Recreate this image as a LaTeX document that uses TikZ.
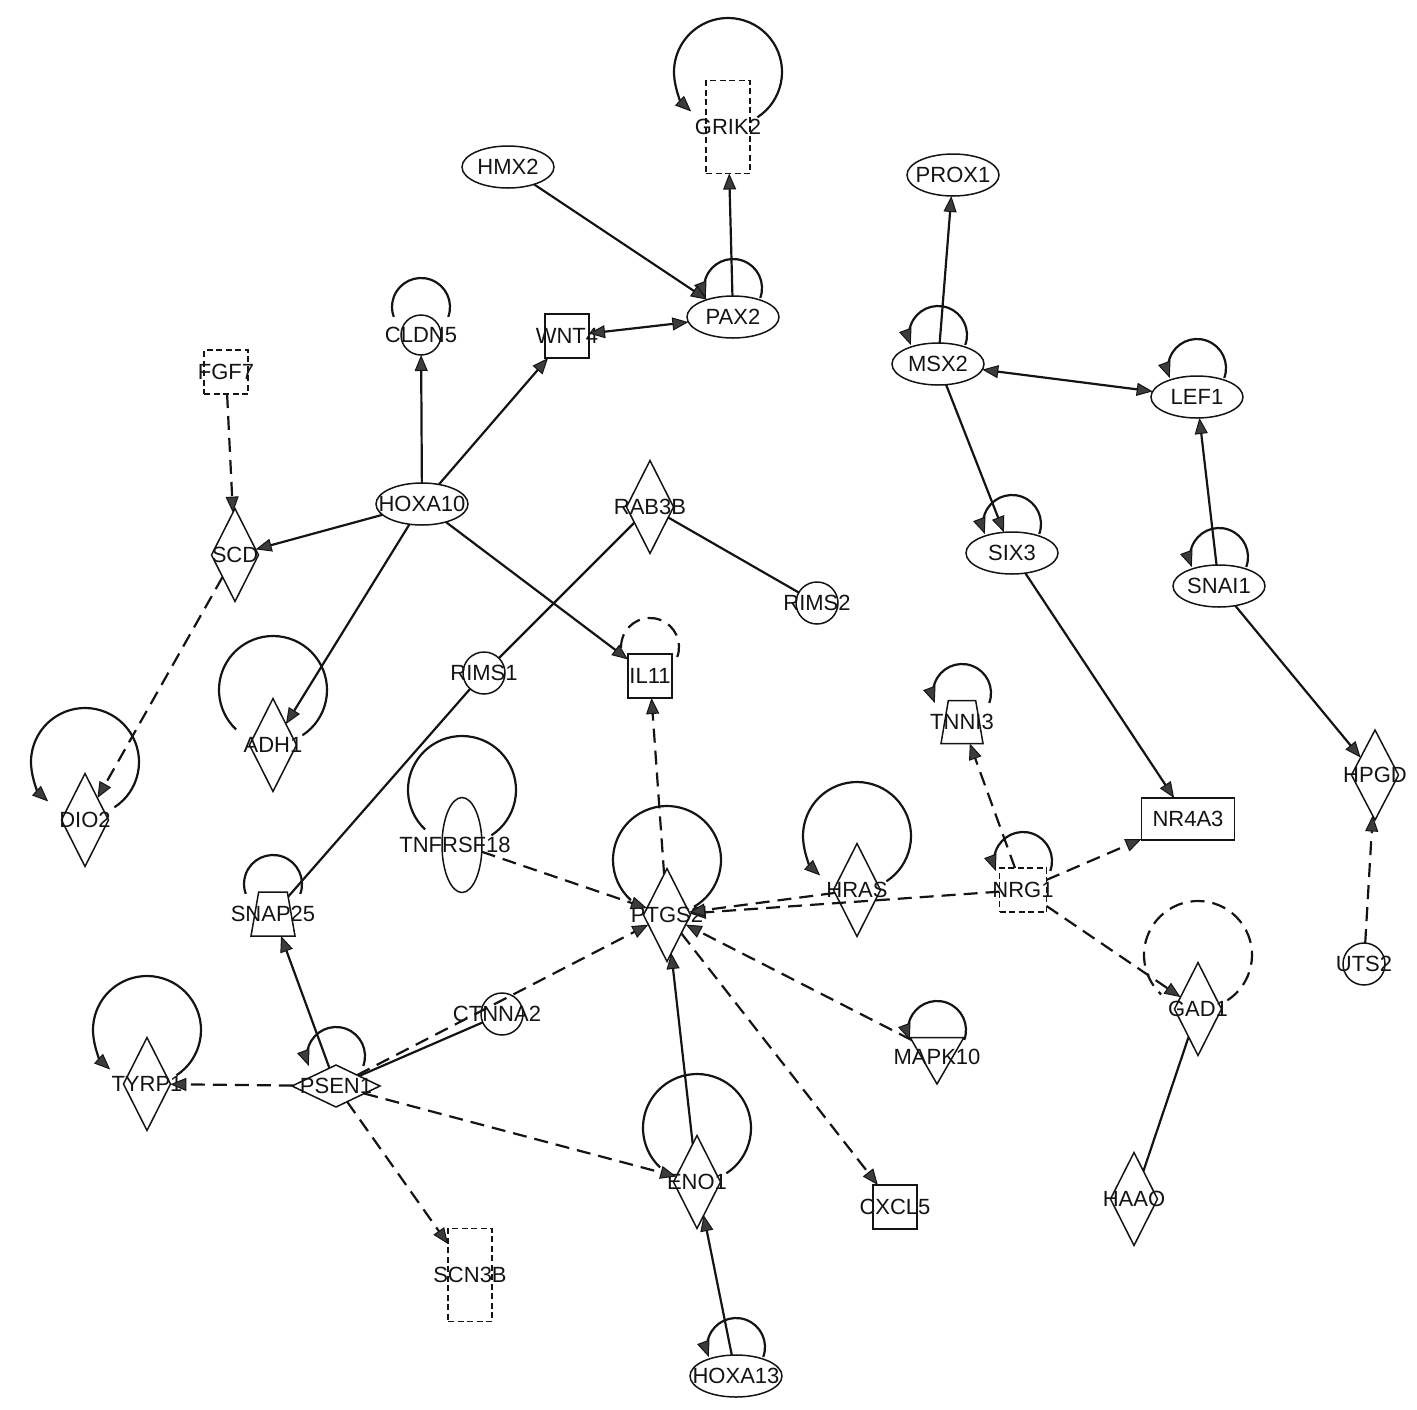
\documentclass[tikz,border=0pt]{standalone}
\usepackage{fontspec}
\newfontfamily\genefont{Liberation Sans}
\usetikzlibrary{shapes.geometric,arrows.meta}
\definecolor{ipaink}{RGB}{20,20,20}
\definecolor{ipatip}{RGB}{60,60,60}

% self-regulation loop above a node: node, offset, radius, start, end
\newcommand{\selfloop}[6][]{\draw[loopline,#1] ([yshift=#3pt]#2.center) ++(#5:#4pt) arc[start angle=#5,end angle=#6,radius=#4pt];}

\begin{document}
\begin{tikzpicture}[x=1pt,y=-1pt,
    >={Triangle[length=16pt,width=13pt,fill=ipatip,line width=1pt]},
    gene/.style={draw=ipaink,line width=1.5pt,inner sep=0pt,outer sep=0pt},
    lbl/.style={font=\genefont\fontsize{22}{24}\selectfont,text=ipaink,inner sep=0pt},
    fine/.style={dash pattern=on 6pt off 3.5pt},
    tr/.style={gene,ellipse,minimum width=92pt,minimum height=42pt},
    recep/.style={gene,ellipse,minimum width=40pt,minimum height=95pt},
    enz/.style={gene,diamond,minimum width=47pt,minimum height=93pt},
    pep/.style={gene,diamond,minimum width=88pt,minimum height=42pt},
    oth/.style={gene,circle,minimum size=42pt},
    cyt/.style={gene,rectangle,minimum width=44pt,minimum height=44pt},
    gf/.style={cyt,fine},
    chan/.style={gene,fine,rectangle,minimum width=44pt,minimum height=93pt},
    nrec/.style={gene,rectangle,minimum width=93pt,minimum height=42pt},
    trans/.style={gene,trapezium,trapezium angle=75,trapezium stretches=true,minimum width=44pt,minimum height=44pt},
    kin/.style={gene,regular polygon,regular polygon sides=3,shape border rotate=180,minimum size=62pt},
    act/.style={draw=ipaink,line width=2.2pt},
    dashline/.style={dash pattern=on 14pt off 8pt},
    loopline/.style={draw=ipaink,line width=2.2pt}]
  \useasboundingbox (0,0) rectangle (1417,1409);

  % genes
  \node[chan,label={[lbl]center:GRIK2}] (grik2) at (728,127) {};
  \node[tr,label={[lbl]center:HMX2}] (hmx2) at (508,167) {};
  \node[tr,label={[lbl]center:PAX2}] (pax2) at (733,317) {};
  \node[cyt,label={[lbl]center:WNT4}] (wnt4) at (567,336) {};
  \node[oth,minimum size=40pt,label={[lbl]center:CLDN5}] (cldn5) at (421,335) {};
  \node[gf,label={[lbl]center:FGF7}] (fgf7) at (226,372) {};
  \node[tr,label={[lbl]center:PROX1}] (prox1) at (953,175) {};
  \node[tr,label={[lbl]center:MSX2}] (msx2) at (938,364) {};
  \node[tr,label={[lbl]center:LEF1}] (lef1) at (1197,397) {};
  \node[tr,label={[lbl]center:HOXA10}] (hoxa10) at (422,504) {};
  \node[enz,label={[lbl]center:SCD}] (scd) at (235,555) {};
  \node[enz,label={[lbl]center:RAB3B}] (rab3b) at (650,507) {};
  \node[oth,label={[lbl]center:RIMS2}] (rims2) at (817,603) {};
  \node[oth,label={[lbl]center:RIMS1}] (rims1) at (484,673) {};
  \node[cyt,label={[lbl]center:IL11}] (il11) at (650,676) {};
  \node[enz,label={[lbl]center:ADH1}] (adh1) at (273,745) {};
  \node[enz,label={[lbl]center:DIO2}] (dio2) at (85,820) {};
  \node[recep,label={[lbl,xshift=-7pt]center:TNFRSF18}] (tnfrsf18) at (462,845) {};
  \node[trans,label={[lbl]center:SNAP25}] (snap25) at (273,914) {\phantom{\rule{2pt}{2pt}}};
  \node[enz,label={[lbl]center:PTGS2}] (ptgs2) at (667,915) {};
  \node[enz,label={[lbl]center:HRAS}] (hras) at (857,890) {};
  \node[trans,minimum width=42pt,minimum height=43pt,label={[lbl]center:TNNI3}] (tnni3) at (962,722) {\phantom{\rule{2pt}{2pt}}};
  \node[nrec,label={[lbl]center:NR4A3}] (nr4a3) at (1188,819) {};
  \node[gf,minimum width=47pt,label={[lbl]center:NRG1}] (nrg1) at (1023,890) {};
  \node[enz,minimum height=90pt,label={[lbl]center:HPGD}] (hpgd) at (1375,775) {};
  \node[oth,label={[lbl]center:UTS2}] (uts2) at (1364,964) {};
  \node[tr,label={[lbl]center:SNAI1}] (snai1) at (1219,586) {};
  \node[tr,label={[lbl]center:SIX3}] (six3) at (1012,553) {};
  \node[enz,label={[lbl]center:GAD1}] (gad1) at (1198,1009) {};
  \node[enz,label={[lbl]center:HAAO}] (haao) at (1134,1199) {};
  \node[kin,label={[lbl,yshift=-4pt]center:MAPK10}] (mapk10) at (937,1053) {};
  \node[oth,label={[lbl,xshift=-5pt]center:CTNNA2}] (ctnna2) at (502,1014) {};
  \node[pep,label={[lbl]center:PSEN1}] (psen1) at (336,1086) {};
  \node[enz,label={[lbl]center:TYRP1}] (tyrp1) at (147,1084) {};
  \node[chan,label={[lbl]center:SCN3B}] (scn3b) at (470,1275) {};
  \node[enz,label={[lbl]center:ENO1}] (eno1) at (697,1182) {};
  \node[cyt,label={[lbl]center:CXCL5}] (cxcl5) at (895,1207) {};
  \node[tr,label={[lbl]center:HOXA13}] (hoxa13) at (736,1376) {};

  % self loops
  \selfloop[->]{grik2}{55}{54}{-57}{227}
  \selfloop[->]{pax2}{29}{29}{-20}{200}
  \selfloop{cldn5}{28}{29}{-20}{200}
  \selfloop[->]{msx2}{29}{29}{-20}{200}
  \selfloop[->]{lef1}{29}{29}{-20}{200}
  \selfloop[->]{six3}{29}{29}{-20}{200}
  \selfloop[->]{snai1}{29}{29}{-20}{200}
  \selfloop[->]{hoxa13}{29}{29}{-20}{200}
  \selfloop[->]{tnni3}{29}{29}{-20}{200}
  \selfloop[->]{nrg1}{29}{29}{-20}{200}
  \selfloop[->]{mapk10}{23}{29}{-20}{200}
  \selfloop[->]{psen1}{30}{29}{-20}{200}
  \selfloop{snap25}{30}{29}{-20}{200}
  \selfloop[dashline]{il11}{29}{29}{-20}{200}
  \selfloop{adh1}{55}{54}{-57}{227}
  \selfloop[->]{dio2}{58}{54}{-57}{227}
  \selfloop{tnfrsf18}{55}{54}{-57}{227}
  \selfloop{ptgs2}{55}{54}{-60}{228}
  \selfloop[->]{hras}{54}{54}{-57}{227}
  \selfloop[dashline]{gad1}{54}{54}{-57}{227}
  \selfloop[->]{tyrp1}{54}{54}{-57}{227}
  \selfloop{eno1}{54}{54}{-57}{227}

  % interactions
  \draw[act,->] (hmx2) -- (pax2);
  \draw[act,->] (pax2) -- (grik2);
  \draw[act,<->] (wnt4) -- (pax2);
  \draw[act,->] (hoxa10) -- (wnt4);
  \draw[act,->] (hoxa10) -- (cldn5);
  \draw[act,->] (hoxa10) -- (scd);
  \draw[act,->] (hoxa10) -- (adh1);
  \draw[act,->] (hoxa10) -- (il11);
  \draw[act,dashline,->] (fgf7) -- (scd);
  \draw[act,dashline,->] (scd) -- (dio2);
  \draw[act] (rab3b) -- (rims1);
  \draw[act] (rab3b) -- (rims2);
  \draw[act] (rims1) -- (snap25);
  \draw[act,->] (msx2) -- (prox1);
  \draw[act,<->] (msx2) -- (lef1);
  \draw[act,->] (msx2) -- (six3);
  \draw[act,->] (snai1) -- (lef1);
  \draw[act,->] (snai1) -- (hpgd);
  \draw[act,dashline,->] (uts2) -- (hpgd);
  \draw[act,->] (six3) -- (nr4a3);
  \draw[act,dashline,->] (nrg1) -- (nr4a3);
  \draw[act,dashline,->] (nrg1) -- (tnni3);
  \draw[act,dashline,->] (nrg1) -- (gad1);
  \draw[act,dashline,->] (nrg1) -- (ptgs2);
  \draw[act,dashline,->] (hras) -- (ptgs2);
  \draw[act] (gad1) -- (haao);
  \draw[act,dashline,->] (tnfrsf18) -- (ptgs2);
  \draw[act,dashline,->] (ptgs2) -- (il11);
  \draw[act,dashline,->] (mapk10) -- (ptgs2);
  \draw[act,dashline,->] (ptgs2) -- (cxcl5);
  \draw[act,->] (eno1) -- (ptgs2);
  \draw[act,->] (hoxa13) -- (eno1);
  \draw[act,->] (psen1) -- (snap25);
  \draw[act] (psen1) -- (ctnna2);
  \draw[act,dashline,->] (psen1) -- (ptgs2);
  \draw[act,dashline,->] (psen1) -- (tyrp1);
  \draw[act,dashline,->] (psen1) -- (scn3b);
  \draw[act,dashline,->] (psen1) -- (eno1);
\end{tikzpicture}
\end{document}
